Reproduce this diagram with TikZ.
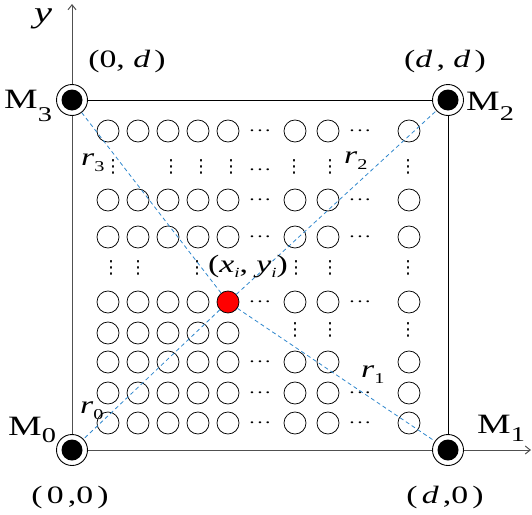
\documentclass[tikz,border=0pt]{standalone}
\usepackage{fontspec}
\setmainfont[FakeStretch=1.35]{Liberation Serif}
\newfontfamily\symbfont{DejaVu Sans}
\usepackage{tikz}
\usetikzlibrary{arrows.meta}
\definecolor{strahl}{HTML}{2F87CD}
\definecolor{achsgrau}{HTML}{505050}
\definecolor{quelle}{HTML}{FF0000}
\newcommand{\tief}[3]{\raisebox{-#1}{\fontsize{#2}{#2}\selectfont #3}}
\newcommand{\vpkt}{{\symbfont ⋮}}
\newcommand{\hpkt}{.\kern2.5pt.\kern2.5pt.}

\begin{document}
\begin{tikzpicture}[x=1pt, y=-1pt,
    kreis/.style={circle, draw, minimum size=22pt, inner sep=0pt, line width=0.75pt},
    ecke/.style={circle, draw, fill=white, minimum size=31pt, inner sep=0pt, line width=0.9pt,
      path picture={\fill[black] (path picture bounding box.center) circle (10.5pt);}},
    gross/.style={font=\fontsize{28}{30}\selectfont, inner sep=0pt},
    mittel/.style={font=\fontsize{25}{28}\selectfont, inner sep=0pt},
    pkt/.style={font=\fontsize{16}{16}\selectfont, inner sep=0pt},
    vpk/.style={font=\fontsize{18}{18}\selectfont, inner sep=0pt},
    abstand/.style={strahl, line width=0.8pt, dash pattern=on 4pt off 3pt},
    achse/.style={achsgrau, line width=1pt, -{Straight Barb[length=5pt, width=8pt]}}]
      \useasboundingbox (0,0) rectangle (532,514);

      % Eckpunkte und Achsenenden
      \coordinate (O) at (72,450);
      \coordinate (C1) at (448,450);
      \coordinate (C2) at (448,100);
      \coordinate (C3) at (72,100);
      \coordinate (yende) at (72,4);
      \coordinate (xende) at (531,450);

      % Achsen und Rand
      \draw[achse] (O) -- (yende);
      \draw[achse] (O) -- (xende);
      \draw[line width=0.9pt] (C3) -- (C2) -- (C1);

      % Gitter: linker Block
      \foreach \y/\r in {131/a, 200/c, 237/d, 333/g, 362/h, 393/i, 423/j} {
        \foreach \x/\s in {108/1, 138/2, 168/3, 198/4, 228/5}
          \node[kreis] (k\r\s) at (\x,\y) {};
      }
      \foreach \x/\s in {108/1, 138/2, 168/3, 198/4}
        \node[kreis] (kf\s) at (\x,302) {};
      \node[kreis, fill=quelle] (ziel) at (228,302) {};

      % Gitter: rechter Block
      \foreach \y/\r in {131/a, 200/c, 237/d, 302/f, 362/h, 393/i, 423/j} {
        \foreach \x/\s in {295/6, 328/7, 409/8}
          \node[kreis] (k\r\s) at (\x,\y) {};
      }

      % Auslassungspunkte
      \foreach \y/\r in {131/a, 170/b, 200/c, 237/d, 302/f, 362/h, 393/i, 423/j}
        \node[pkt] (ha\r) at (260,\y) {\hpkt};
      \foreach \y/\r in {131/a, 200/c, 237/d, 302/f, 393/i, 423/j}
        \node[pkt] (hb\r) at (360,\y) {\hpkt};
      \foreach \x/\s in {113/1, 171/3, 201/4, 231/5, 294/6, 330/7, 408/8}
        \node[vpk] (vb\s) at (\x,167) {\vpkt};
      \foreach \x/\s in {111/1, 138/2, 197/4, 296/6, 330/7, 408/8}
        \node[vpk] (ve\s) at (\x,268) {\vpkt};
      \foreach \x/\s in {295/6, 330/7, 408/8}
        \node[vpk] (vg\s) at (\x,330) {\vpkt};

      % Messpunkte in den Ecken
      \node[ecke] (M0) at (O) {};
      \node[ecke] (M1) at (C1) {};
      \node[ecke] (M2) at (C2) {};
      \node[ecke] (M3) at (C3) {};

      % Abstaende
      \foreach \m in {M0, M1, M2, M3}
        \draw[abstand] (ziel) -- (\m);

      % Beschriftung
      \node[font=\fontsize{30}{32}\selectfont\itshape] (ly) at (43,19) {y};
      \node[gross, anchor=base west] (lM3) at (4,108) {M\tief{13pt}{21}{3}};
      \node[gross, anchor=base west] (lM2) at (466,110) {M\tief{10pt}{21}{2}};
      \node[gross, anchor=base west] (lM0) at (8,435) {M\tief{7pt}{21}{0}};
      \node[gross, anchor=base west] (lM1) at (477,433) {M\tief{8pt}{21}{1}};
      \node[mittel] (lp3) at (127,61) {(0, \textit{d}\,)};
      \node[mittel] (lp2) at (445,61) {(\textit{d}\,, \textit{d}\,)};
      \node[mittel] (lp0) at (70,497) {(\,0\,,0\,)};
      \node[mittel] (lp1) at (445,497) {(\,\textit{d}\,,0\,)};
      \node[mittel, anchor=base] (lziel) at (248,272)
        {(\textit{x}\tief{5pt}{14}{\textit{i}}, \textit{y}\tief{5pt}{14}{\textit{i}})};
      \node[mittel, anchor=base west] (lr3) at (81,165) {\textit{r}\tief{6pt}{15}{3}};
      \node[mittel, anchor=base west] (lr2) at (344,163) {\textit{r}\tief{6pt}{15}{2}};
      \node[mittel, anchor=base west] (lr0) at (80,413) {\textit{r}\tief{6pt}{15}{0}};
      \node[mittel, anchor=base west] (lr1) at (361,377) {\textit{r}\tief{6pt}{15}{1}};
    \end{tikzpicture}
\end{document}
